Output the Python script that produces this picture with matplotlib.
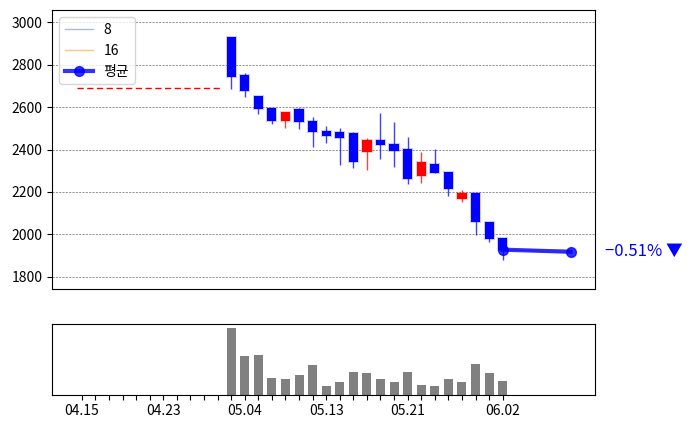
import matplotlib
matplotlib.use('Agg')
import matplotlib.pyplot as plt
from matplotlib.lines import Line2D

plt.rcParams['font.family'] = ['Noto Sans CJK KR', 'DejaVu Sans']
plt.rcParams['axes.unicode_minus'] = True

# ---- data ----
candle_idx = list(range(11, 32))
opens  = [2932, 2751, 2654, 2597, 2536, 2592, 2536, 2489, 2484, 2479, 2390,
          2446, 2427, 2401, 2275, 2333, 2294, 2168, 2196, 2059, 1981]
highs  = [2932, 2762, 2654, 2597, 2578, 2597, 2552, 2511, 2501, 2483, 2456,
          2572, 2530, 2459, 2390, 2401, 2294, 2209, 2196, 2059, 1981]
lows   = [2687, 2649, 2569, 2520, 2503, 2498, 2413, 2432, 2328, 2314, 2303,
          2357, 2319, 2239, 2243, 2291, 2183, 2152, 1995, 1965, 1879]
closes = [2743, 2676, 2591, 2536, 2578, 2530, 2483, 2464, 2454, 2341, 2446,
          2423, 2394, 2261, 2342, 2291, 2212, 2196, 2059, 1978, 1928]
volumes = [663, 383, 393, 163, 153, 193, 293, 83, 123, 223, 213,
           153, 123, 223, 93, 83, 153, 123, 303, 213, 133]

ref_price = 2690
forecast_x = [31, 36]
ma8_line = [1928, 1913]
ma16_line = [1928, 1924]
avg_line = [1928, 1918]
change_text = '−0.51% ▼'

n_ticks = 32
tick_idx = [0, 6, 12, 18, 24, 31]
tick_labels = ['04.15', '04.23', '05.04', '05.13', '05.21', '06.02']

# ---- figure ----
W, H = 691, 428
fig = plt.figure(figsize=(W / 100, H / 100), dpi=100)
ax = fig.add_axes([52.3 / W, 1 - 289.3 / H, 543 / W, 279 / H])
axv = fig.add_axes([52.3 / W, 1 - 394.7 / H, 543 / W, 70.4 / H])

xlim = (-2.17, 37.82)

for i, o, h, l, c in zip(candle_idx, opens, highs, lows, closes):
    col = 'red' if c > o else 'blue'
    ax.vlines(i, l, h, color=col, linewidth=1, alpha=0.75, zorder=2)
    ax.bar(i, abs(c - o), bottom=min(o, c), width=0.68, color=col,
           edgecolor=(0, 0, 1, 0.2) if col == 'blue' else (1, 0, 0, 0.2),
           linewidth=1.5, zorder=3)

ax.hlines(ref_price, -0.35, 10.35, colors='red', linestyles=(0, (4.5, 2.5)),
          linewidth=1, zorder=2)

ax.plot(forecast_x, ma8_line, color='steelblue', alpha=0.5, linewidth=1, zorder=4)
ax.plot(forecast_x, ma16_line, color='darkorange', alpha=0.5, linewidth=1, zorder=4)
ax.plot(forecast_x, avg_line, color='blue', alpha=0.8, linewidth=3,
        marker='o', markersize=7, zorder=5)

ax.set_xlim(*xlim)
ax.set_ylim(1741, 3057)
ax.set_yticks([1800, 2000, 2200, 2400, 2600, 2800, 3000])
ax.tick_params(axis='y', labelsize=10)
ax.set_xticks([])
ax.grid(axis='y', color='gray', linestyle=(0, (2.5, 1.5)), linewidth=0.6)
ax.set_axisbelow(True)

handles = [
    Line2D([], [], color='steelblue', alpha=0.5, linewidth=1),
    Line2D([], [], color='darkorange', alpha=0.5, linewidth=1),
    Line2D([], [], color='blue', alpha=0.8, linewidth=3, marker='o', markersize=7),
]
ax.legend(handles, ['8', '16', '평균'], loc='upper left', fontsize=10)

fig.text(605 / W, 1 - 251 / H, change_text, color='blue', fontsize=12,
         ha='left', va='center')

axv.bar(candle_idx, volumes, width=0.66, color='gray')
axv.set_xlim(*xlim)
axv.set_ylim(0, max(volumes) * 1.06)
axv.set_yticks([])
axv.set_xticks(range(n_ticks), minor=False)
axv.set_xticklabels([tick_labels[tick_idx.index(k)] if k in tick_idx else ''
                     for k in range(n_ticks)], fontsize=10)

fig.savefig('out.png', dpi=100)
